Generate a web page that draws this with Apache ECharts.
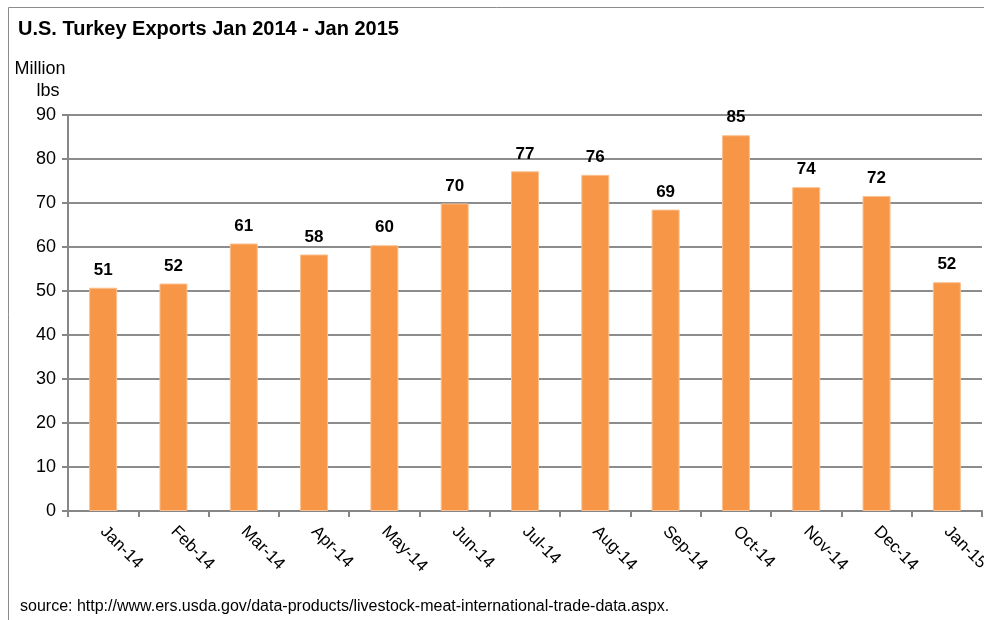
<!DOCTYPE html>
<html>
<head>
<meta charset="utf-8">
<script src="https://cdn.jsdelivr.net/npm/echarts@6/dist/echarts.min.js"></script>
<style>
html,body{margin:0;padding:0;background:#fff;}
#chart{width:984px;height:620px;}
</style>
</head>
<body>
<div id="chart"></div>
<script>
const titleText = 'U.S. Turkey Exports Jan 2014 - Jan 2015';
const sourceText = 'source: http://www.ers.usda.gov/data-products/livestock-meat-international-trade-data.aspx.';
const yAxisNameLines = ['Million', 'lbs'];
const categories = ['Jan-14','Feb-14','Mar-14','Apr-14','May-14','Jun-14','Jul-14','Aug-14','Sep-14','Oct-14','Nov-14','Dec-14','Jan-15'];
const exportsMlbs = [50.75, 51.7, 60.8, 58.3, 60.4, 69.9, 77.2, 76.4, 68.5, 85.4, 73.6, 71.6, 52.0];
const yTicks = [0, 10, 20, 30, 40, 50, 60, 70, 80, 90];

const chart = echarts.init(document.getElementById('chart'), null, {renderer: 'canvas'});
const font = 'Arial, "Liberation Sans", sans-serif';
chart.setOption({
  backgroundColor: '#fff',
  animation: false,
  textStyle: {fontFamily: font},
  graphic: [
    {type: 'rect', shape: {x: 8.5, y: 7.5, width: 1000, height: 700}, style: {fill: 'none', stroke: '#8c8c8c', lineWidth: 1}, z: -1},
    {type: 'text', left: 18, top: 19, style: {text: titleText, font: 'bold 20px ' + font, fill: '#000'}},
    {type: 'text', x: 40, y: 60, style: {text: yAxisNameLines[0], font: '18px ' + font, fill: '#000', align: 'center'}},
    {type: 'text', x: 48, y: 82, style: {text: yAxisNameLines[1], font: '18px ' + font, fill: '#000', align: 'center'}},
    {type: 'text', left: 20, top: 599, style: {text: sourceText, font: '16px ' + font, fill: '#000'}}
  ],
  grid: {left: 68, right: 2, top: 115, bottom: 109, containLabel: false, outerBoundsMode: 'none'},
  xAxis: {
    type: 'category',
    data: categories,
    boundaryGap: true,
    axisLine: {lineStyle: {color: '#868686', width: 2}},
    axisTick: {show: true, length: 6, lineStyle: {color: '#868686', width: 2}},
    axisLabel: {rotate: -45, fontSize: 17, color: '#000', margin: 18, fontFamily: font, interval: 0, hideOverlap: false}
  },
  yAxis: {
    type: 'value',
    min: yTicks[0],
    max: yTicks[yTicks.length - 1],
    interval: 10,
    axisLine: {show: true, lineStyle: {color: '#868686', width: 2}},
    axisTick: {show: true, length: 6, lineStyle: {color: '#868686', width: 2}},
    axisLabel: {fontSize: 18, color: '#000', margin: 12, fontFamily: font},
    splitLine: {show: true, lineStyle: {color: '#8c8c8c', width: 2}}
  },
  series: [{
    type: 'bar',
    data: exportsMlbs,
    barWidth: 28,
    itemStyle: {color: '#F79646', borderColor: '#FAC090', borderWidth: 1},
    label: {
      show: true,
      position: 'top',
      distance: 9,
      fontSize: 17,
      fontWeight: 'bold',
      color: '#000',
      fontFamily: font,
      formatter: p => Math.round(p.value)
    }
  }]
});
</script>
</body>
</html>
